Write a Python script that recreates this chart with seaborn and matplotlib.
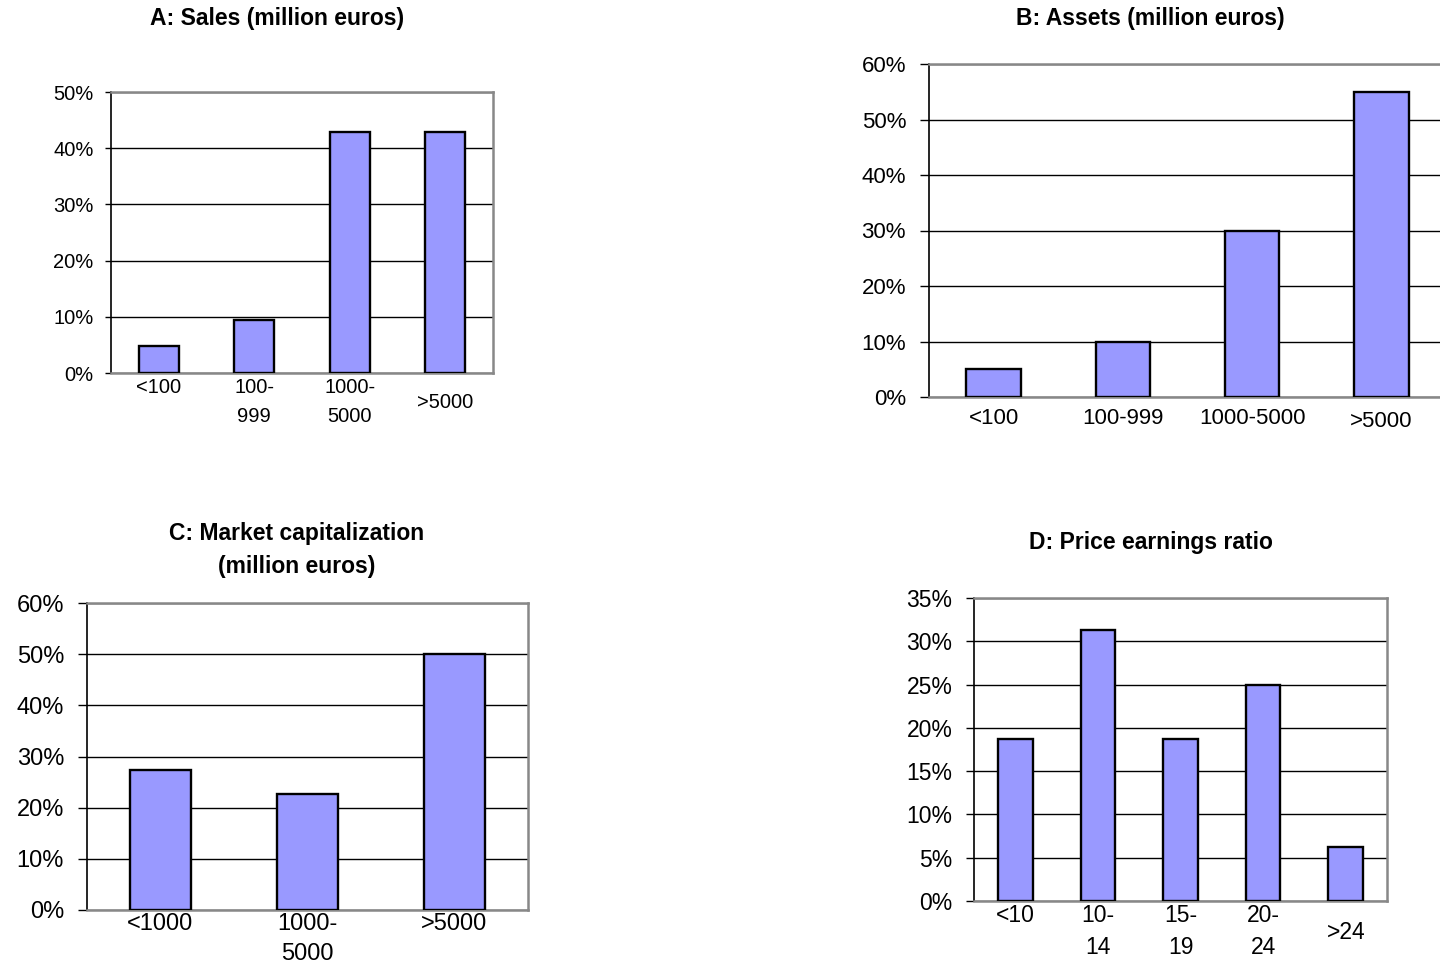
import matplotlib
matplotlib.use('Agg')
import matplotlib.pyplot as plt
import seaborn as sns

sns.set_theme(style='white')
plt.rcParams['font.family'] = ['Liberation Sans', 'DejaVu Sans']
plt.rcParams['text.color'] = 'black'
plt.rcParams['ytick.labelcolor'] = 'black'

# data (percent of companies)
sales_cats = ['<100', '100-\n999', '1000-\n5000', '>5000']
sales_vals = [4.8, 9.5, 42.9, 42.9]

assets_cats = ['<100', '100-999', '1000-5000', '>5000']
assets_vals = [5.0, 10.0, 30.0, 55.0]

mcap_cats = ['<1000', '1000-\n5000', '>5000']
mcap_vals = [27.3, 22.7, 50.0]

pe_cats = ['<10', '10-\n14', '15-\n19', '20-\n24', '>24']
pe_vals = [18.75, 31.25, 18.75, 25.0, 6.25]

W, H = 1440, 977
fig = plt.figure(figsize=(W / 100, H / 100), dpi=100)


def box(x0, y0, x1, y1):
    # pixel box -> figure fraction
    return [x0 / W, 1 - y1 / H, (x1 - x0) / W, (y1 - y0) / H]


def panel(rect, cats, vals, ymax, step, fs, pad, tick_len, tick_pad,
          drop=None, drop_dy=0, lsp=1.55):
    ax = fig.add_axes(rect)
    sns.barplot(x=list(range(len(cats))), y=vals, ax=ax, color='#9999FF',
                saturation=1, edgecolor='black', linewidth=1.7, width=0.42,
                zorder=3)
    ax.set_ylim(0, ymax)
    ax.set_xlim(-0.5, len(cats) - 0.5)
    ticks = list(range(0, ymax + 1, step))
    ax.set_yticks(ticks)
    ax.set_yticklabels([f'{t}%' for t in ticks], fontsize=fs, color='black')
    ax.set_xticks([])
    ax.set_xlabel('')
    ax.set_ylabel('')
    ax.yaxis.grid(True, color='black', linewidth=1)
    ax.set_axisbelow(True)
    ax.tick_params(axis='y', direction='out', length=tick_len, width=1,
                   color='black', left=True, pad=tick_pad)
    ax.spines['left'].set_color('black')
    ax.spines['left'].set_linewidth(1.2)
    for s in ['top', 'right', 'bottom']:
        ax.spines[s].set_color('#888888')
        ax.spines[s].set_linewidth(1.8)
    for i, lab in enumerate(cats):
        dy = drop_dy if drop is not None and i in drop else 0
        ax.annotate(lab, xy=(i, 0), xycoords=('data', 'axes fraction'),
                    xytext=(0, -pad - dy), textcoords='offset pixels',
                    ha='center', va='top', fontsize=fs, linespacing=lsp,
                    color='black')
    return ax


panel(box(111, 92, 493, 373), sales_cats, sales_vals, 50, 10, 14.5, 5,
      4.5, 8, drop=[3], drop_dy=15, lsp=1.65)
panel(box(929, 64, 1446, 397), assets_cats, assets_vals, 60, 10, 16, 11,
      6.5, 10, drop=[3], drop_dy=3)
panel(box(87, 603, 528, 910), mcap_cats, mcap_vals, 60, 10, 17, 3,
      6.5, 10, lsp=1.5)
panel(box(974, 598, 1387, 901), pe_cats, pe_vals, 35, 5, 16.5, 3,
      5.5, 10, drop=[4], drop_dy=17, lsp=1.5)

title_kw = dict(ha='center', va='center', fontsize=16.5, fontweight='bold',
                color='black')
fig.text(277 / W, 1 - 19 / H, 'A: Sales (million euros)', **title_kw)
fig.text(1150 / W, 1 - 19 / H, 'B: Assets (million euros)', **title_kw)
fig.text(297 / W, 1 - 550 / H, 'C: Market capitalization\n(million euros)',
         linespacing=1.6, **title_kw)
fig.text(1151 / W, 1 - 543 / H, 'D: Price earnings ratio', **title_kw)

fig.savefig('out.png', dpi=100)
